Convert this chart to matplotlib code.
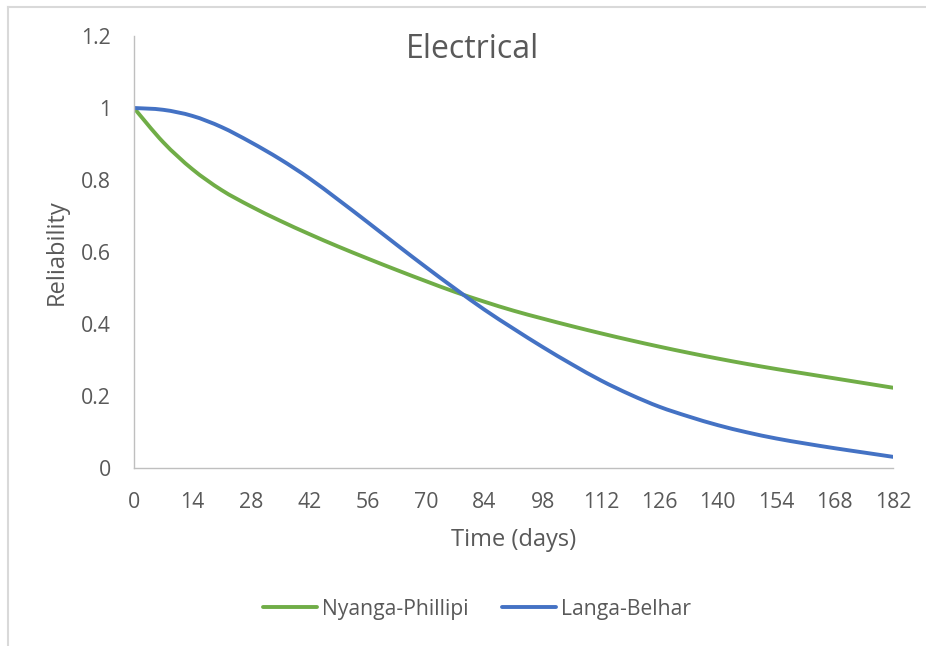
import numpy as np
import matplotlib
matplotlib.use("Agg")
import matplotlib.pyplot as plt
from matplotlib.path import Path
from matplotlib.patches import PathPatch
from matplotlib.lines import Line2D

# Reliability of the electrical assets over half a year, weekly readings
days = [0, 7, 14, 21, 28, 35, 42, 49, 56, 63, 70, 77, 84, 91,
        98, 105, 112, 119, 126, 133, 140, 147, 154, 161, 168, 175, 182]
nyanga_phillipi = [1.000, 0.905, 0.830, 0.772, 0.727, 0.687, 0.650, 0.615, 0.582,
                   0.550, 0.519, 0.489, 0.462, 0.437, 0.415, 0.394, 0.374, 0.355,
                   0.337, 0.320, 0.304, 0.289, 0.275, 0.262, 0.249, 0.236, 0.223]
langa_belhar = [1.000, 0.995, 0.978, 0.947, 0.905, 0.858, 0.805, 0.745, 0.683,
                0.620, 0.558, 0.498, 0.440, 0.387, 0.336, 0.288, 0.243, 0.204,
                0.170, 0.143, 0.119, 0.099, 0.082, 0.068, 0.055, 0.043, 0.031]
series_names = ["Nyanga-Phillipi", "Langa-Belhar"]
series_colors = ["#70AD47", "#4472C4"]

x_ticks = list(range(0, 183, 14))
y_ticks = [0, 0.2, 0.4, 0.6, 0.8, 1.0, 1.2]
y_tick_labels = ["0", "0.2", "0.4", "0.6", "0.8", "1", "1.2"]

TEXT = "#595959"
AXIS = "#BFBFBF"

plt.rcParams["font.family"] = ["Open Sans", "DejaVu Sans"]


def smooth_path(x, y):
    """Cubic Bezier path through the points (spreadsheet-style smoothing)."""
    pts = np.column_stack([x, y]).astype(float)
    n = len(pts)
    verts = [pts[0]]
    codes = [Path.MOVETO]
    for i in range(n - 1):
        p0 = pts[max(i - 1, 0)]
        p1 = pts[i]
        p2 = pts[i + 1]
        p3 = pts[min(i + 2, n - 1)]
        c1 = p1 + (p2 - p0) / 6.0
        c2 = p2 - (p3 - p1) / 6.0
        verts += [c1, c2, p2]
        codes += [Path.CURVE4] * 3
    return Path(verts, codes)


fig = plt.figure(figsize=(9.26, 6.46), dpi=100)
ax = fig.add_axes([134 / 926, 1 - 468 / 646, 759 / 926, 432 / 646])

handles = []
for values, name, color in zip([nyanga_phillipi, langa_belhar], series_names, series_colors):
    patch = PathPatch(smooth_path(days, values), facecolor="none", edgecolor=color,
                      lw=2.8, capstyle="round", joinstyle="round")
    ax.add_patch(patch)
    handles.append(Line2D([], [], color=color, lw=2.8, solid_capstyle="round", label=name))

ax.set_xlim(0, 182)
ax.set_ylim(0, 1.2)
ax.set_xticks(x_ticks)
ax.set_xticklabels([str(t) for t in x_ticks])
ax.set_yticks(y_ticks)
ax.set_yticklabels(y_tick_labels)
ax.tick_params(axis="both", length=0, labelsize=15.3, labelcolor=TEXT)
ax.tick_params(axis="x", pad=17)
ax.tick_params(axis="y", pad=16.5)

for side in ("top", "right"):
    ax.spines[side].set_visible(False)
for side in ("left", "bottom"):
    ax.spines[side].set_color(AXIS)
    ax.spines[side].set_linewidth(1.0)

ax.set_xlabel("Time (days)", fontsize=17, color=TEXT)
ax.xaxis.set_label_coords(0.5, -0.138)
ax.set_ylabel("Reliability", fontsize=17, color=TEXT)
ax.yaxis.set_label_coords(-0.086, 0.5)

fig.text(473 / 926, 1 - 50 / 646, "Electrical", fontsize=23, color=TEXT,
         ha="center", va="center")

fig.legend(handles=handles, loc="center", bbox_to_anchor=(477 / 926, 1 - 609 / 646),
           ncol=2, frameon=False, fontsize=15.2, handlelength=2.55, handletextpad=0.24,
           columnspacing=1.55, labelcolor=TEXT)

# Chart frame (light border along the top and left edges)
fig.add_artist(Line2D([7.5 / 926, 1.0], [1 - 6.5 / 646, 1 - 6.5 / 646],
                      transform=fig.transFigure, color="#D9D9D9", lw=1.5))
fig.add_artist(Line2D([7.5 / 926, 7.5 / 926], [0.0, 1 - 6.5 / 646],
                      transform=fig.transFigure, color="#D9D9D9", lw=1.5))

fig.savefig("out.png", dpi=100, facecolor="white")
